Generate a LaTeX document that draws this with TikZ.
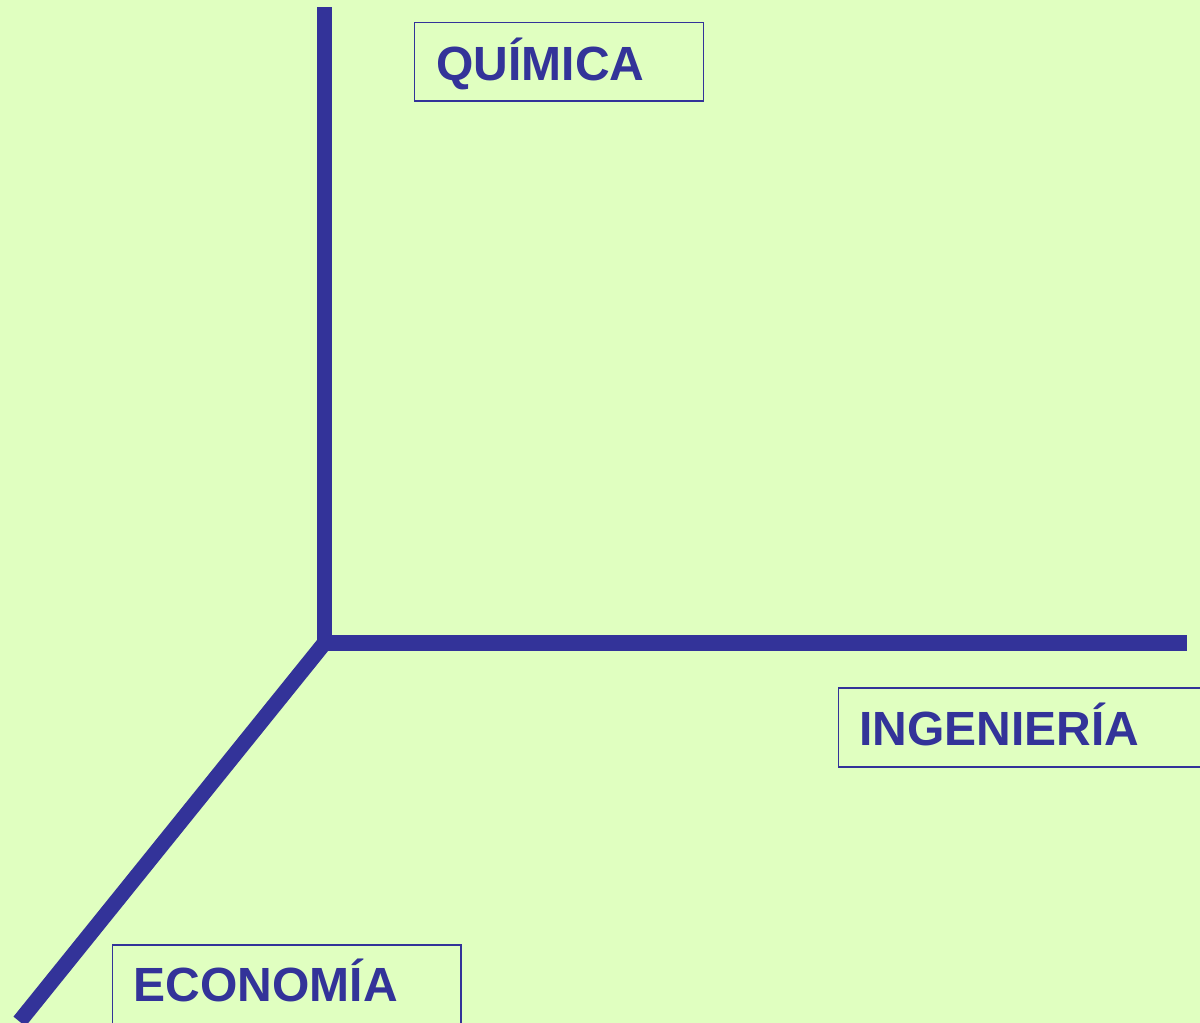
\documentclass[tikz,border=0pt]{standalone}
\usepackage{fontspec}
\setmainfont{Liberation Sans}
\definecolor{bg}{HTML}{E0FFC0}
\definecolor{ax}{HTML}{333399}
\begin{document}
\begin{tikzpicture}[x=1pt,y=-1pt,
  axis/.style={draw=ax,line width=15.5pt,line cap=butt,line join=miter},
  labelbox/.style={draw=ax,line width=1.6pt},
  labeltext/.style={anchor=base west,inner sep=0pt,text=ax,font=\fontsize{48}{50}\selectfont\bfseries}]
\useasboundingbox (0,0) rectangle (1200,1023);
\fill[bg] (0,0) rectangle (1200,1023);
\coordinate (top) at (324.7,7.3);
\coordinate (o) at (324.7,642.8);
\coordinate (right) at (1187,642.8);
\coordinate (bl) at (19.5,1021.5);
\draw[axis] (top) -- (o) -- (right);
\draw[axis] (o) -- (bl);
\draw[labelbox] (414.5,22.5) rectangle (703.3,100.7);
\draw[labelbox] (838.5,688) rectangle (1210,766.7);
\draw[labelbox] (112.3,945) rectangle (461,1040);
\node[labeltext] (quimica) at (436.3,80.3) {QUÍMICA};
\node[labeltext] (ingenieria) at (859.3,745.7) {INGENIERÍA};
\node[labeltext] (economia) at (133.6,1001.7) {ECONOMÍA};
\end{tikzpicture}
\end{document}
